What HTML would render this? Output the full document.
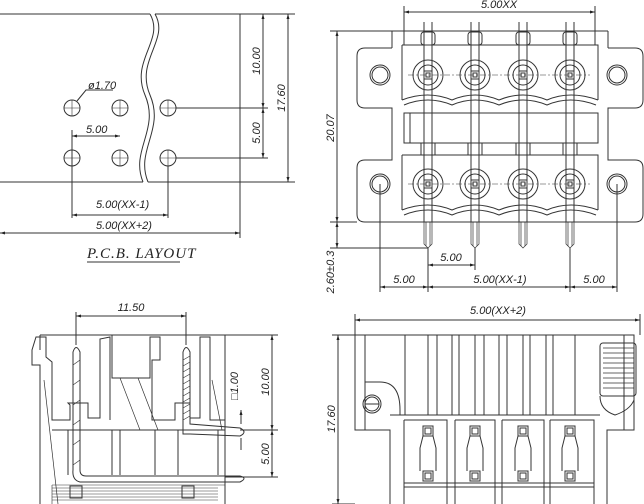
<!DOCTYPE html>
<html><head><meta charset="utf-8"><style>
html,body{margin:0;padding:0;background:#fff;}
svg{display:block;}
text{font-family:"Liberation Sans",sans-serif;font-style:italic;font-size:11px;fill:#222;}
.t{font-family:"Liberation Serif",serif;font-size:15px;letter-spacing:1px;}
</style></head><body>
<svg width="644" height="504" viewBox="0 0 644 504" xmlns="http://www.w3.org/2000/svg">
<defs>
<marker id="a" viewBox="0 0 10 10" refX="10" refY="5" markerWidth="8" markerHeight="5" orient="auto-start-reverse"><path d="M0,2 L10,5 L0,8 z" fill="#222"/></marker>
</defs>
<g fill="none" stroke="#333" stroke-width="1">
<!-- ===== PCB LAYOUT ===== -->
<path d="M0,14 H150 M155,14 H240 V182 H148 M143,182 H0"/>
<path d="M150,14 C165,40 130,60 145,95 C160,130 130,150 143,182"/>
<path d="M155,14 C170,40 135,60 150,95 C165,130 135,150 148,182"/>
<g>
<circle cx="72" cy="108" r="8"/><circle cx="120" cy="108" r="8"/><circle cx="168" cy="108" r="8"/>
<circle cx="72" cy="158" r="8"/><circle cx="120" cy="158" r="8"/><circle cx="168" cy="158" r="8"/>
<path d="M64,108h16M72,100v16M112,108h16M120,100v16M160,108h16M168,100v16M64,158h16M72,150v16M112,158h16M120,150v16M160,158h16M168,150v16" stroke-width="0.6"/>
</g>
<path d="M77,101 L86,90 H113" />
<path d="M176,108 H268 M176,158 H268 M240,14 H295 M240,182 H295"/>
<path d="M263,14 V108" marker-start="url(#a)" marker-end="url(#a)"/>
<path d="M263,108 V158" marker-start="url(#a)" marker-end="url(#a)"/>
<path d="M288,14 V182" marker-start="url(#a)" marker-end="url(#a)"/>
<path d="M72,136 H120" marker-start="url(#a)" marker-end="url(#a)"/>
<path d="M72,130 V218 M168,166 V218 M240,182 V238"/>
<path d="M72,215 H168" marker-start="url(#a)" marker-end="url(#a)"/>
<path d="M0,233 H240" marker-start="url(#a)" marker-end="url(#a)"/>
<path d="M87,262 H180"/>
<!-- ===== TOP RIGHT ===== -->
<path d="M404,6 V45 M595,6 V45"/>
<path d="M404,12 H595" marker-start="url(#a)" marker-end="url(#a)"/>
<path d="M392,31 H608 M392,31 V48 M608,31 V48"/>
<path d="M392,48 H365 Q357,48 357,56 V100 Q357,108 365,108 H392 V160 H365 Q357,160 357,168 V214 Q357,222 365,222 H635 Q643,222 643,214 V168 Q643,160 635,160 H608 V108 H635 Q643,108 643,100 V56 Q643,48 635,48 H608"/>
<path d="M402,45 H598 V100 M402,45 V100"/>
<path d="M402,100 Q428,90 452,100 Q475,90 499,100 Q523,90 547,100 Q570,90 598,100"/>
<path d="M404,105 Q428,95 452,105 Q475,95 499,105 Q523,95 547,105 Q570,95 596,105"/>
<path d="M404,113 H598 V143 H404 Z M410,113 V143"/>
<path d="M402,155 H598 V210 M402,155 V210"/>
<path d="M402,210 Q428,200 452,210 Q475,200 499,210 Q523,200 547,210 Q570,200 598,210"/>
<path d="M404,215 Q428,205 452,215 Q475,205 499,215 Q523,205 547,215 Q570,205 596,215"/>
<g id="col">
<rect x="421" y="32" width="14" height="13" rx="3"/>
<path d="M424,22 V222 M432,22 V222"/>
<rect x="421" y="143" width="14" height="12"/>
<circle cx="428" cy="75" r="15"/><circle cx="428" cy="75" r="10"/><rect x="424" y="71" width="8" height="8"/><rect x="426" y="73" width="4" height="4"/>
<circle cx="428" cy="184" r="15"/><circle cx="428" cy="184" r="10"/><rect x="424" y="180" width="8" height="8"/><rect x="426" y="182" width="4" height="4"/>
<path d="M424,222 V244 L428,248 L432,244 V222 M426,222 V246 M430,222 V246" stroke-width="0.7"/>
</g>
<use href="#col" x="47"/><use href="#col" x="95"/><use href="#col" x="142"/>
<path d="M408,75 H590 M408,184 H590" stroke-dasharray="6,2,2,2" stroke-width="0.6"/>
<circle cx="380" cy="75" r="10"/><circle cx="380" cy="75" r="8"/>
<circle cx="617" cy="75" r="10"/><circle cx="617" cy="75" r="8"/>
<circle cx="380" cy="184" r="10"/><circle cx="380" cy="184" r="8"/>
<circle cx="617" cy="184" r="10"/><circle cx="617" cy="184" r="8"/>
<path d="M330,31 H392 M330,222 H357 M330,248 H428"/>
<path d="M337,31 V222" marker-start="url(#a)" marker-end="url(#a)"/>
<path d="M337,222 V248" marker-start="url(#a)" marker-end="url(#a)"/>
<path d="M380,184 V292 M617,184 V292 M428,248 V292 M475,248 V270 M570,248 V292"/>
<path d="M428,265 H475" marker-start="url(#a)" marker-end="url(#a)"/>
<path d="M380,287 H428" marker-start="url(#a)" marker-end="url(#a)"/>
<path d="M428,287 H570" marker-start="url(#a)" marker-end="url(#a)"/>
<path d="M570,287 H617" marker-start="url(#a)" marker-end="url(#a)"/>
<!-- ===== BOTTOM LEFT ===== -->
<path d="M76,312 V345 M186,312 V345"/>
<path d="M76,316 H186" marker-start="url(#a)" marker-end="url(#a)"/>
<path d="M40,504 V365 H32 V350 L36,337 H46 L46,357 L52,362 V420 H70 V405 L68,403 L88,403 V418 H100 V339 L110,337 V420"/>
<path d="M40,335 H225 V504 M40,335 V350"/>
<path d="M112,335 V378 H150 V337 L160,337 V360 H152 V420 H175 V403 H190 V418 H200 V337 L210,337 V420 H225"/>
<path d="M52,430 H225 M68,430 V475 M112,430 V475 M120,430 V475 M155,430 V475 M178,430 V475 M218,430 V475"/>
<path d="M73,352 Q76,343 80,352 V470 Q80,476 86,476 H240 Q248,478 240,482 H80 Q72,480 73,470 Z"/>
<path d="M183,352 Q186,343 190,352 V424 L240,428 Q248,432 240,436 L190,434 H183 Z"/>
<path d="M73,365 L80,360 M73,385 L80,380 M73,405 L80,400 M73,425 L80,420 M73,445 L80,440 M73,465 L80,460" stroke-width="0.6"/>
<path d="M183,360 l7,-4 M183,366 l7,-4 M183,372 l7,-4 M183,378 l7,-4 M183,384 l7,-4 M183,390 l7,-4 M183,396 l7,-4 M183,402 l7,-4 M183,408 l7,-4 M183,414 l7,-4 M183,420 l7,-4" stroke-width="0.6"/>
<path d="M52,485 H225 M52,485 V504 M52,488 H218 M52,491 H218 M52,494 H218 M52,497 H218 M52,500 H218" stroke-width="0.6"/>
<rect x="70" y="486" width="12" height="12"/><rect x="182" y="486" width="12" height="12"/>
<path d="M120,378 L140,430 M138,378 L158,430 M44,380 L58,504 M212,380 L222,430" stroke-width="0.7"/>
<path d="M225,335 H278 M240,430 H278 M225,477 H278"/>
<path d="M272,335 V430" marker-start="url(#a)" marker-end="url(#a)"/>
<path d="M272,430 V477" marker-start="url(#a)" marker-end="url(#a)"/>
<path d="M241,410 V424 M241,438 V450" marker-start="url(#a)"/>
<!-- ===== BOTTOM RIGHT ===== -->
<path d="M355,314 V335 M640,314 V335"/>
<path d="M355,320 H640" marker-start="url(#a)" marker-end="url(#a)"/>
<path d="M355,335 H634 V430 H607 V504 M355,335 V430 H390 V504 M365,335 V430 M624,335 V430"/>
<path d="M365,382 H380 Q400,382 400,410 V415"/>
<path d="M405,335 V415 M428,335 V415 M437,335 V415 M452,335 V415 M459,335 V415 M475,335 V415 M484,335 V415 M499,335 V415 M507,335 V415 M523,335 V415 M530,335 V415 M546,335 V415 M553,335 V415 M575,335 V415"/>
<path d="M390,415 H600"/>
<circle cx="372" cy="404" r="9"/><circle cx="372" cy="404" r="7"/><path d="M365,404 H379"/>
<rect x="600" y="343" width="36" height="53" rx="3"/>
<path d="M603,348 H634 M603,353 H634 M603,358 H634 M603,363 H634 M603,368 H634 M603,373 H634 M603,378 H634 M603,383 H634 M603,388 H634" stroke-width="0.7"/>
<path d="M600,396 Q600,410 615,415 Q630,410 634,400"/>
<path d="M404,420 H447 V504 M404,420 V504 M455,420 H495 V504 M455,420 V504 M502,420 H544 V504 M502,420 V504 M550,420 H594 V504 M550,420 V504"/>
<path d="M404,483 H594 M404,487 H594"/>
<g id="sl">
<rect x="423" y="426" width="10" height="10"/><rect x="425" y="428" width="6" height="6"/>
<rect x="423" y="471" width="10" height="10"/><rect x="425" y="473" width="6" height="6"/>
<path d="M423,436 L420,448 V471 M433,436 L436,448 V471"/>
</g>
<use href="#sl" x="47"/><use href="#sl" x="95"/><use href="#sl" x="142"/>
<path d="M332,335 H355 M332,504 H355"/>
<path d="M338,335 V504" marker-start="url(#a)" marker-end="url(#a)"/>
</g>
<!-- ===== TEXT ===== -->
<text x="88" y="89">ø1.70</text>
<text x="86" y="133">5.00</text>
<text x="96" y="208">5.00(XX-1)</text>
<text x="96" y="229">5.00(XX+2)</text>
<text class="t" x="87" y="258">P.C.B. LAYOUT</text>
<text transform="translate(260,61) rotate(-90)" text-anchor="middle">10.00</text>
<text transform="translate(260,133) rotate(-90)" text-anchor="middle">5.00</text>
<text transform="translate(285,98) rotate(-90)" text-anchor="middle">17.60</text>
<text x="499" y="8" text-anchor="middle">5.00XX</text>
<text transform="translate(334,128) rotate(-90)" text-anchor="middle">20.07</text>
<text transform="translate(334,272) rotate(-90)" text-anchor="middle">2.60±0.3</text>
<text x="451" y="261" text-anchor="middle">5.00</text>
<text x="404" y="283" text-anchor="middle">5.00</text>
<text x="500" y="283" text-anchor="middle">5.00(XX-1)</text>
<text x="594" y="283" text-anchor="middle">5.00</text>
<text x="131" y="311" text-anchor="middle">11.50</text>
<text transform="translate(269,382) rotate(-90)" text-anchor="middle">10.00</text>
<text transform="translate(269,454) rotate(-90)" text-anchor="middle">5.00</text>
<text transform="translate(238,386) rotate(-90)" text-anchor="middle">□1.00</text>
<text x="498" y="314" text-anchor="middle">5.00(XX+2)</text>
<text transform="translate(335,419) rotate(-90)" text-anchor="middle">17.60</text>
</svg>
</body></html>
